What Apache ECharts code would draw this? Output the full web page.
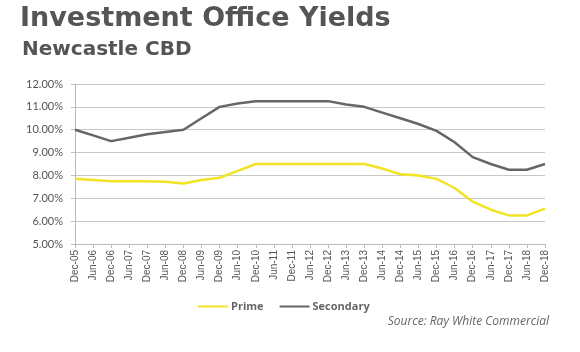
<!DOCTYPE html>
<html>
<head>
<meta charset="utf-8">
<script src="https://cdn.jsdelivr.net/npm/echarts@6/dist/echarts.min.js"></script>
<style>
  html, body { margin: 0; padding: 0; background: #fff; }
  #chart { width: 580px; height: 352px; }
</style>
</head>
<body>
<div id="chart"></div>
<script>
// categories (half-yearly)
var periods = ['Dec-05','Jun-06','Dec-06','Jun-07','Dec-07','Jun-08','Dec-08','Jun-09','Dec-09','Jun-10',
  'Dec-10','Jun-11','Dec-11','Jun-12','Dec-12','Jun-13','Dec-13','Jun-14','Dec-14','Jun-15',
  'Dec-15','Jun-16','Dec-16','Jun-17','Dec-17','Jun-18','Dec-18'];

// yields, %
var prime = [7.85, 7.8, 7.75, 7.75, 7.75, 7.72, 7.65, 7.8, 7.9, 8.2,
  8.5, 8.5, 8.5, 8.5, 8.5, 8.5, 8.5, 8.3, 8.05, 8.0,
  7.85, 7.45, 6.85, 6.5, 6.25, 6.25, 6.55];
var secondary = [10.0, 9.75, 9.5, 9.65, 9.8, 9.9, 10.0, 10.5, 11.0, 11.15,
  11.25, 11.25, 11.25, 11.25, 11.25, 11.1, 11.0, 10.75, 10.5, 10.25,
  9.95, 9.45, 8.8, 8.5, 8.25, 8.25, 8.5];

var chart = echarts.init(document.getElementById('chart'));
var option = {
  backgroundColor: '#fff',
  animation: false,
  title: [
    {
      text: 'Investment Office Yields',
      left: 15, top: 0,
      textStyle: { fontFamily: 'DejaVu Sans', fontWeight: 'bold', fontSize: 27, color: '#555' }
    },
    {
      text: 'Newcastle CBD',
      left: 17, top: 35,
      textStyle: { fontFamily: 'DejaVu Sans', fontWeight: 'bold', fontSize: 20, color: '#555' }
    },
    {
      text: 'Source: Ray White Commercial',
      right: 26, top: 311,
      textStyle: { fontFamily: 'Open Sans', fontStyle: 'italic', fontWeight: 'normal', fontSize: 12, color: '#666' }
    }
  ],
  legend: {
    top: 296, left: 193,
    itemWidth: 30, itemHeight: 2, itemGap: 16,
    icon: 'rect',
    textStyle: { fontFamily: 'Open Sans', fontWeight: 'bold', fontSize: 11, color: '#666', padding: [0, 0, 0, -2] },
    data: ['Prime', 'Secondary']
  },
  grid: { left: 75, right: 35, top: 84, bottom: 108 },
  xAxis: {
    type: 'category',
    data: periods,
    boundaryGap: false,
    axisLine: { lineStyle: { color: '#bbb' } },
    axisTick: { show: true, length: 4, lineStyle: { color: '#bbb' } },
    axisLabel: { rotate: 90, interval: 0, fontFamily: 'Liberation Sans', fontSize: 10, color: '#555', margin: 6 }
  },
  yAxis: {
    type: 'value',
    min: 5, max: 12, interval: 1,
    axisLine: { show: true, lineStyle: { color: '#bbb' } },
    axisTick: { show: true, length: 4, lineStyle: { color: '#bbb' } },
    axisLabel: {
      fontFamily: 'Lato', fontSize: 11, color: '#555', margin: 12,
      formatter: function (v) { return v.toFixed(2) + '%'; }
    },
    splitLine: { lineStyle: { color: '#c8c8c8' } }
  },
  series: [
    {
      name: 'Prime', type: 'line', data: prime,
      symbol: 'none',
      lineStyle: { color: '#f2e424', width: 2.5 },
      itemStyle: { color: '#f2e424' }
    },
    {
      name: 'Secondary', type: 'line', data: secondary,
      symbol: 'none',
      lineStyle: { color: '#666', width: 2.5 },
      itemStyle: { color: '#666' }
    }
  ]
};
chart.setOption(option);
</script>
</body>
</html>
